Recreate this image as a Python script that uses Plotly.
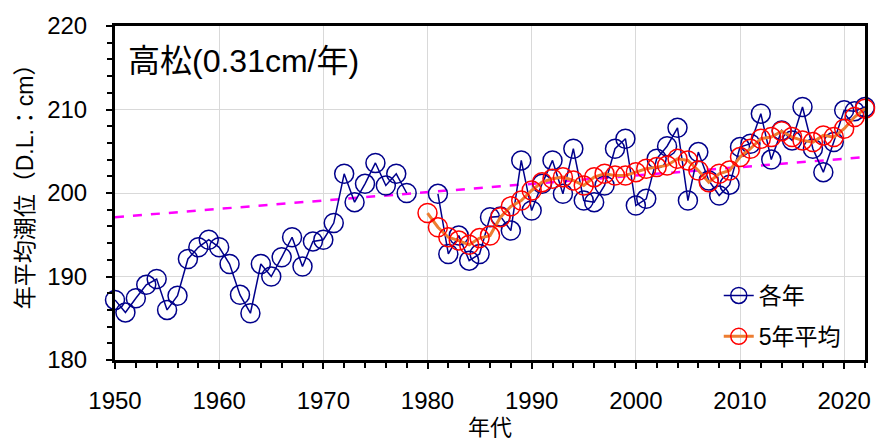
import plotly.graph_objects as go

years = list(range(1950, 2023))
annual = [187.2, 185.7, 187.4, 189.0, 189.7, 186.0, 187.7, 192.1, 193.5, 194.4,
          193.5, 191.5, 187.8, 185.6, 191.5, 190.0, 192.3, 194.7, 191.2, 194.2,
          194.4, 196.4, 202.3, 198.9, 201.1, 203.6, 200.9, 202.3, 200.0, None,
          None, 199.9, 192.7, 194.9, 191.9, 192.7, 197.1, 197.2, 195.5, 203.9,
          197.9, 201.1, 203.9, 199.9, 205.3, 199.1, 198.9, 200.9, 205.3, 206.5,
          198.5, 199.3, 204.1, 205.6, 207.8, 199.1, 204.9, 201.5, 199.7, 201.0,
          205.5, 205.9, 209.5, 204.0, 207.5, 206.3, 210.3, 205.3, 202.5, 206.1,
          209.9, 209.8, 210.3]

avg_years = list(range(1980, 2023))
avg5 = [197.6, 195.9, 194.7, 194.3, 193.8, 194.6, 194.9, 197.1, 198.4, 199.1,
        200.3, 201.3, 201.7, 201.9, 201.5, 200.9, 201.9, 202.3, 202.1, 202.1,
        202.5, 202.9, 203.1, 203.3, 204.1, 203.9, 202.7, 201.3, 202.3, 202.7,
        204.3, 205.3, 206.5, 206.7, 207.4, 206.7, 206.3, 206.1, 206.9, 206.7,
        207.7, 209.1, 210.1]

trend_x = [1950, 2022]
trend_y = [197.1, 204.3]

title_text = "高松(0.31cm/年)"
ytitle = "年平均潮位（D.L.：cm）"
xtitle = "年代"

FONT = "Liberation Sans, Arial, Noto Sans CJK JP"

fig = go.Figure()
fig.add_trace(go.Scatter(
    x=trend_x, y=trend_y, mode="lines", showlegend=False,
    line=dict(color="#FF00FF", width=2.5, dash="dash"), hoverinfo="skip"))
fig.add_trace(go.Scatter(
    x=years, y=annual, mode="lines+markers", name="各年", legendgroup="a",
    line=dict(color="#00008B", width=1.5),
    marker=dict(symbol="circle-open", size=19, color="#00008B", line=dict(width=1.5)),
    connectgaps=False, cliponaxis=False))
fig.add_trace(go.Scatter(
    x=avg_years, y=avg5, mode="lines+markers", name="5年平均", legendgroup="b",
    line=dict(color="#ED7D31", width=3),
    marker=dict(symbol="circle-open", size=19, color="#FF0000", line=dict(width=1.5)),
    cliponaxis=False))

# white box behind legend (above gridlines, below traces)
fig.add_shape(type="rect", xref="paper", yref="paper", x0=0.782, x1=0.981,
              y0=0.024, y1=0.233, fillcolor="white", line=dict(width=0), layer="between")

fig.add_annotation(text=title_text, xref="paper", yref="paper", x=0.014, y=0.955,
                   xanchor="left", yanchor="top", showarrow=False,
                   font=dict(size=32, color="black", family=FONT))
fig.add_annotation(text=ytitle, xref="paper", yref="paper", x=-0.12, y=0.535,
                   xanchor="center", yanchor="middle", showarrow=False, textangle=-90,
                   font=dict(size=23, color="black", family=FONT))
fig.add_annotation(text=xtitle, xref="paper", yref="paper", x=0.5, y=-0.203,
                   xanchor="center", yanchor="middle", showarrow=False,
                   font=dict(size=22, color="black", family=FONT))

fig.update_layout(
    width=883, height=442,
    margin=dict(l=115, r=14, t=25, b=82),
    paper_bgcolor="white", plot_bgcolor="white",
    font=dict(family=FONT, color="black", size=22),
    legend=dict(x=0.805, y=0.006, xanchor="left", yanchor="bottom",
                bgcolor="rgba(0,0,0,0)", borderwidth=0, font=dict(size=23),
                tracegroupgap=8, traceorder="grouped"),
)
fig.update_xaxes(
    range=[1950, 2022], tick0=1950, dtick=10,
    showgrid=True, gridcolor="#D9D9D9", gridwidth=1,
    showline=True, linecolor="black", linewidth=3, mirror=True,
    ticks="outside", ticklen=6, tickwidth=2, tickcolor="black",
    minor=dict(dtick=2, ticks="outside", ticklen=5, tickwidth=2, tickcolor="black", showgrid=False),
    tickfont=dict(size=24), ticklabelstandoff=11,
    zeroline=False)
fig.update_yaxes(
    range=[180, 220], dtick=10,
    showgrid=True, gridcolor="#D9D9D9", gridwidth=1,
    showline=True, linecolor="black", linewidth=3, mirror=True,
    ticks="outside", ticklen=6, tickwidth=2, tickcolor="black",
    minor=dict(dtick=2, ticks="outside", ticklen=5, tickwidth=2, tickcolor="black", showgrid=False),
    tickfont=dict(size=24), ticklabelstandoff=14,
    zeroline=False)

fig.write_html("out.html")
